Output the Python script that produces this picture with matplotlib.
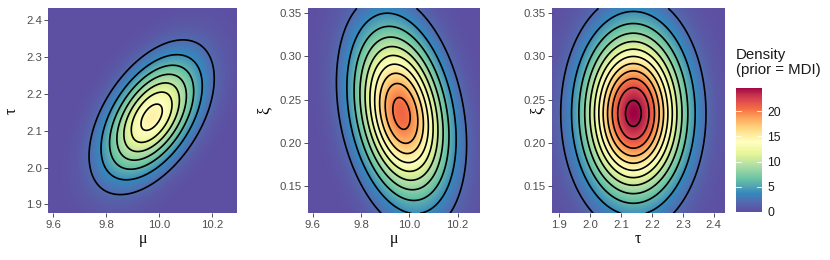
import numpy as np
import matplotlib
matplotlib.use("Agg")
import matplotlib.pyplot as plt
from matplotlib.colors import Normalize, ListedColormap, to_rgb
from matplotlib.cm import ScalarMappable

plt.rcParams['font.family'] = ['Liberation Sans', 'DejaVu Sans']

# axis ranges and ticks
mu_lim = [9.582, 10.293]
tau_lim = [1.876, 2.433]
xi_lim = [0.119, 0.355]
mu_ticks = [9.6, 9.8, 10.0, 10.2]
tau_ticks = [1.9, 2.0, 2.1, 2.2, 2.3, 2.4]
xi_ticks = [0.15, 0.20, 0.25, 0.30, 0.35]
mu_labels = ["9.6", "9.8", "10.0", "10.2"]
tau_labels = ["1.9", "2.0", "2.1", "2.2", "2.3", "2.4"]
xi_labels = ["0.15", "0.20", "0.25", "0.30", "0.35"]

# estimated posterior summaries (centre, sd, correlation)
p1_center = [9.972, 2.137]
p1_sd = [0.118, 0.105]
p1_rho = 0.50
p2_center = [9.968, 0.234]
p2_sd = [0.1245, 0.0635]
p2_rho = -0.26
p3_center = [2.140, 0.234]
p3_sd = [0.1047, 0.0615]
p3_rho = 0.0

contour_step = 2
cbar_ticks = [0, 5, 10, 15, 20]
legend_title = "Density\n(prior = MDI)"
palette = ['#5e4fa2', '#3288bd', '#66c2a5', '#abdda4', '#e6f598', '#ffffbf',
           '#fee08b', '#fdae61', '#f46d43', '#d53e4f', '#9e0142']
palette_gamma = 1.2


# --- Lab-space interpolated palette ---
M = np.array([[0.4124564, 0.3575761, 0.1804375],
              [0.2126729, 0.7151522, 0.0721750],
              [0.0193339, 0.1191920, 0.9503041]])
WHITE = np.array([0.95047, 1.0, 1.08883])


def srgb_to_lab(rgb):
    rgb = np.asarray(rgb)
    lin = np.where(rgb <= 0.04045, rgb / 12.92, ((rgb + 0.055) / 1.055) ** 2.4)
    xyz = lin @ M.T / WHITE
    f = np.where(xyz > (6 / 29) ** 3, np.cbrt(xyz), xyz / (3 * (6 / 29) ** 2) + 4 / 29)
    L = 116 * f[..., 1] - 16
    a = 500 * (f[..., 0] - f[..., 1])
    b = 200 * (f[..., 1] - f[..., 2])
    return np.stack([L, a, b], axis=-1)


def lab_to_srgb(lab):
    L, a, b = lab[..., 0], lab[..., 1], lab[..., 2]
    fy = (L + 16) / 116
    fx = fy + a / 500
    fz = fy - b / 200
    f = np.stack([fx, fy, fz], axis=-1)
    xyz = np.where(f > 6 / 29, f ** 3, 3 * (6 / 29) ** 2 * (f - 4 / 29)) * WHITE
    lin = xyz @ np.linalg.inv(M).T
    lin = np.clip(lin, 0, 1)
    rgb = np.where(lin <= 0.0031308, 12.92 * lin, 1.055 * lin ** (1 / 2.4) - 0.055)
    return np.clip(rgb, 0, 1)


labs = srgb_to_lab(np.array([to_rgb(c) for c in palette]))
pos = np.linspace(0, 1, len(palette))
tt = np.linspace(0, 1, 512) ** palette_gamma
lab_interp = np.stack([np.interp(tt, pos, labs[:, k]) for k in range(3)], axis=-1)
cmap = ListedColormap(lab_to_srgb(lab_interp))


def density(xlim, ylim, center, sd, rho, n=400):
    x = np.linspace(xlim[0], xlim[1], n)
    y = np.linspace(ylim[0], ylim[1], n)
    X, Y = np.meshgrid(x, y)
    zx = (X - center[0]) / sd[0]
    zy = (Y - center[1]) / sd[1]
    q = (zx**2 - 2 * rho * zx * zy + zy**2) / (1 - rho**2)
    Z = np.exp(-q / 2) / (2 * np.pi * sd[0] * sd[1] * np.sqrt(1 - rho**2))
    return X, Y, Z


panels = [
    (mu_lim, tau_lim, p1_center, p1_sd, p1_rho, mu_ticks, mu_labels, tau_ticks, tau_labels, "μ", "τ"),
    (mu_lim, xi_lim, p2_center, p2_sd, p2_rho, mu_ticks, mu_labels, xi_ticks, xi_labels, "μ", "ξ"),
    (tau_lim, xi_lim, p3_center, p3_sd, p3_rho, tau_ticks, tau_labels, xi_ticks, xi_labels, "τ", "ξ"),
]

grids = [density(p[0], p[1], p[2], p[3], p[4]) for p in panels]
vmax = max(g[2].max() for g in grids)
norm = Normalize(vmin=0, vmax=vmax)

W, H = 830, 260
fig = plt.figure(figsize=(W / 100, H / 100), dpi=100)

boxes = [(48.3, 236.7), (308.3, 480.0), (551.7, 724.0)]
top_px, bot_px = 8.3, 213.3
ylabel_x = [12, 265, 538]

for i, (p, g, box) in enumerate(zip(panels, grids, boxes)):
    xlim, ylim = p[0], p[1]
    X, Y, Z = g
    ax = fig.add_axes([box[0] / W, (H - bot_px) / H, (box[1] - box[0]) / W, (bot_px - top_px) / H])
    ax.imshow(Z, origin='lower', extent=[xlim[0], xlim[1], ylim[0], ylim[1]],
              aspect='auto', cmap=cmap, norm=norm, interpolation='bilinear')
    levels = np.arange(contour_step, Z.max(), contour_step)
    ax.contour(X, Y, Z, levels=levels, colors='black', linewidths=1.2)
    ax.set_xlim(xlim)
    ax.set_ylim(ylim)
    ax.set_xticks(p[5])
    ax.set_xticklabels(p[6])
    ax.set_yticks(p[7])
    ax.set_yticklabels(p[8])
    for s in ax.spines.values():
        s.set_visible(False)
    ax.tick_params(axis='both', length=3, width=0.6, color='#333333', labelcolor='#4d4d4d',
                   labelsize=8.2, pad=1.5)
    ax.set_xlabel(p[9], family=['Liberation Serif', 'DejaVu Serif'], fontsize=11.5, labelpad=1)
    fig.text(ylabel_x[i] / W, (H - (top_px + bot_px) / 2) / H, p[10],
             family=['Liberation Serif', 'DejaVu Serif'], fontsize=11.5,
             rotation=90, ha='center', va='center')

# colorbar
cb_l, cb_r, cb_t, cb_b = 736, 762, 87.7, 211.7
cax = fig.add_axes([cb_l / W, (H - cb_b) / H, (cb_r - cb_l) / W, (cb_b - cb_t) / H])
sm = ScalarMappable(norm=norm, cmap=cmap)
cb = fig.colorbar(sm, cax=cax)
cb.outline.set_visible(False)
cb.set_ticks(cbar_ticks)
cb.set_ticklabels([str(t) for t in cbar_ticks])
cax.tick_params(length=0, labelsize=8.8, labelcolor='#1a1a1a', pad=4)
for t in cbar_ticks:
    cax.plot([0, 0.2], [t, t], color='white', lw=0.6, transform=cax.get_yaxis_transform())
    cax.plot([0.8, 1.0], [t, t], color='white', lw=0.6, transform=cax.get_yaxis_transform())
fig.text(cb_l / W, (H - 48) / H, legend_title, fontsize=10.8, ha='left', va='top',
         color='#1a1a1a', linespacing=1.05)

fig.savefig('out.png', dpi=100)
